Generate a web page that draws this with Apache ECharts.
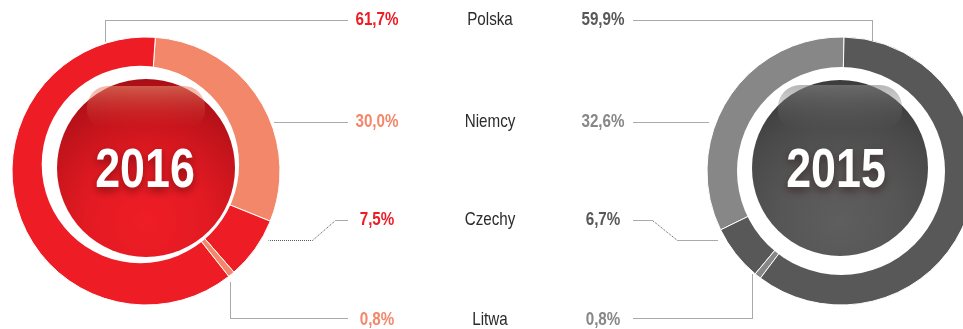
<!DOCTYPE html>
<html>
<head>
<meta charset="utf-8">
<style>
  html, body { margin: 0; padding: 0; background: #ffffff; }
  #chart { width: 963px; height: 329px; }
</style>
<script src="https://cdn.jsdelivr.net/npm/echarts@6/dist/echarts.min.js"></script>
</head>
<body>
<div id="chart"></div>
<script>
// Country names shown in the middle column
const countries = ['Polska', 'Niemcy', 'Czechy', 'Litwa'];
// Shares (%) per country, same order as countries
const share2016 = [61.7, 30.0, 7.5, 0.8];
const share2015 = [59.9, 32.6, 6.7, 0.8];
// Year captions inside the rings
const yearLeft = '2016';
const yearRight = '2015';

// Liberation Sans squeezed horizontally to get a narrow grotesque look
const FONT = "'Liberation Sans', Arial, sans-serif";
const NARROW = 0.8;

// Ring palettes: strong / soft tone per year
const redStrong = '#ee1c25', redSoft = '#f3876a';
const greyStrong = '#585858', greySoft = '#878787';
const colors2016 = [redStrong, redSoft, redStrong, redSoft];
const colors2015 = [greyStrong, greySoft, greyStrong, greySoft];

// Slices run from the top: Niemcy, Czechy, Litwa, then Polska closes the ring
const ringOrder = [1, 2, 3, 0];
function ringData(values, palette) {
  return ringOrder.map(i => ({
    name: countries[i],
    value: values[i],
    itemStyle: { color: palette[i] }
  }));
}

function fmt(v) {
  return v.toFixed(1).replace('.', ',') + '%';
}

const chart = echarts.init(document.getElementById('chart'), null, { renderer: 'canvas' });

const L = { cx: 146, cy: 171 };
const R = { cx: 841, cy: 171 };
const outerR = 134;

const rowY = [20, 122, 220, 320];
const colLeft = 377, colMid = 490, colRight = 603;

const graphics = [];

// white holes of the rings
graphics.push({ type: 'circle', z: 50, silent: true, shape: { cx: 140.4, cy: 164.5, r: 98.7 }, style: { fill: '#ffffff' } });
graphics.push({ type: 'circle', z: 50, silent: true, shape: { cx: R.cx, cy: R.cy, r: 104 }, style: { fill: '#ffffff' } });

// glossy centre discs
function disc(cx, cy, r, stops, glossColor, glossW, glossTop, glossH) {
  graphics.push({
    type: 'circle', z: 60, silent: true,
    shape: { cx: cx, cy: cy, r: r },
    style: {
      fill: new echarts.graphic.RadialGradient(0.5, 0.8, 0.85, stops)
    }
  });
  graphics.push({
    type: 'rect', z: 61, silent: true,
    shape: { x: cx - glossW / 2, y: glossTop, width: glossW, height: glossH, r: [glossH / 2, glossH / 2, glossH / 2.4, glossH / 2.4] },
    style: {
      fill: new echarts.graphic.LinearGradient(0, 0, 0, 1, [
        { offset: 0, color: glossColor[0] },
        { offset: 1, color: glossColor[1] }
      ])
    }
  });
}
disc(146, 168, 89, [
  { offset: 0, color: '#ef1d26' },
  { offset: 0.4, color: '#e31a22' },
  { offset: 0.7, color: '#c5141c' },
  { offset: 1, color: '#a30e15' }
], ['rgba(230,140,110,0.6)', 'rgba(220,60,50,0.0)'], 118, 86, 42);
disc(840, 168, 88, [
  { offset: 0, color: '#5e5e5e' },
  { offset: 0.4, color: '#565656' },
  { offset: 0.7, color: '#4a4a4a' },
  { offset: 1, color: '#383838' }
], ['rgba(135,135,135,0.6)', 'rgba(110,110,110,0.0)'], 124, 85, 44);

// year captions
function year(text, x, y) {
  graphics.push({
    type: 'text', z: 70, silent: true, x: x, y: y, scaleX: NARROW,
    style: {
      text: text,
      fontFamily: FONT, fontSize: 56, fontWeight: 'bold',
      fill: '#ffffff', align: 'center', verticalAlign: 'middle',
      textShadowColor: 'rgba(30,0,0,0.45)', textShadowBlur: 8, textShadowOffsetY: 4,
      shadowColor: 'rgba(30,0,0,0.45)', shadowBlur: 8, shadowOffsetY: 4
    }
  });
}
year(yearLeft, 145, 172);
year(yearRight, 836, 172);

// dotted leader lines
function leader(points) {
  graphics.push({
    type: 'polyline', z: 40, silent: true,
    shape: { points: points.map(p => [p[0] + 0.5, p[1] + 0.5]) },
    style: { stroke: '#555555', lineWidth: 1, lineDash: [1, 1], fill: null }
  });
}
leader([[347, 20], [105, 20], [105, 41]]);
leader([[347, 122], [274, 122]]);
leader([[347, 220], [335, 220], [312, 240], [268, 240]]);
leader([[347, 318], [230, 318], [230, 282]]);
leader([[633, 20], [872, 20], [872, 40]]);
leader([[633, 122], [708, 122]]);
leader([[633, 220], [652, 220], [677, 240], [718, 240]]);
leader([[633, 318], [752, 318], [752, 273]]);

// value and name columns
function label(text, x, y, color, weight) {
  graphics.push({
    type: 'text', z: 40, silent: true, x: x, y: y, scaleX: NARROW,
    style: { text: text, fontFamily: FONT, fontSize: 19, fontWeight: weight, fill: color, align: 'center', verticalAlign: 'middle' }
  });
}
countries.forEach((name, i) => {
  label(fmt(share2016[i]), colLeft, rowY[i], colors2016[i], 'bold');
  label(name, colMid, rowY[i], '#2b2b2b', 'normal');
  label(fmt(share2015[i]), colRight, rowY[i], colors2015[i], 'bold');
});

const ringBase = {
  type: 'pie',
  radius: [60, outerR],
  silent: true,
  animation: false,
  label: { show: false },
  labelLine: { show: false },
  itemStyle: { borderColor: '#ffffff', borderWidth: 1 },
  z: 2
};

chart.setOption({
  backgroundColor: '#ffffff',
  animation: false,
  series: [
    Object.assign({}, ringBase, {
      name: yearLeft,
      center: [L.cx, L.cy],
      startAngle: 86,
      clockwise: true,
      data: ringData(share2016, colors2016)
    }),
    Object.assign({}, ringBase, {
      name: yearRight,
      center: [R.cx, R.cy],
      startAngle: 88.7,
      clockwise: false,
      data: ringData(share2015, colors2015)
    })
  ],
  graphic: { elements: graphics }
});
</script>
</body>
</html>
